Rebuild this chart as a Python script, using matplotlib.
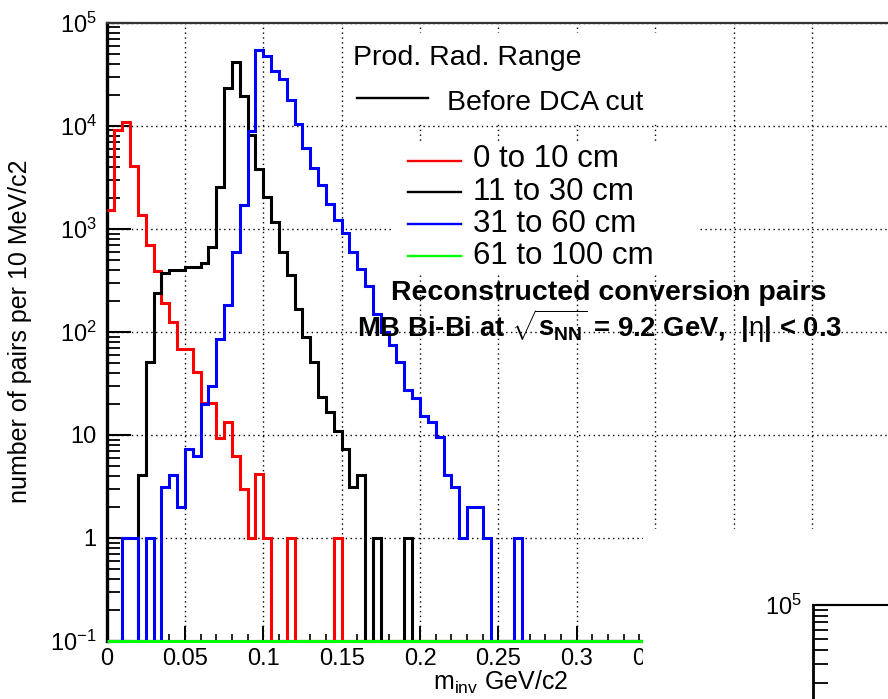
"""
Reconstructed conversion pairs: invariant mass spectra by production radius.
ROOT-style log histogram, canvas cropped at the right edge.
"""
import numpy as np
import matplotlib
matplotlib.use('Agg')
import matplotlib.pyplot as plt
from matplotlib.patches import Rectangle
from matplotlib.lines import Line2D
from matplotlib.ticker import MultipleLocator, FixedLocator, LogLocator, NullFormatter, FuncFormatter

plt.rcParams['font.family'] = ['Liberation Sans', 'DejaVu Sans']
plt.rcParams['mathtext.fontset'] = 'custom'
plt.rcParams['mathtext.rm'] = 'Liberation Sans'
plt.rcParams['mathtext.it'] = 'Liberation Sans:italic'
plt.rcParams['mathtext.bf'] = 'Liberation Sans:bold'

# ── Binning ───────────────────────────────────────────────────────────────────
BIN_WIDTH = 0.005
N_BINS    = 100
edges     = np.linspace(0.0, N_BINS * BIN_WIDTH, N_BINS + 1)

# ── Counts per bin (bins 0..52; the rest are empty) ──────────────────────────
red_counts = [1530, 9140, 10770, 4030, 1370, 700, 390, 190, 124, 68,
              68, 41, 20.6, 20.6, 9.3, 13.3, 6.2, 3.0, 1, 4.2,
              1, 0, 0, 1, 0, 0, 0, 0, 0, 1]
black_counts = [0, 0, 0, 0, 4.1, 51, 240, 374, 394, 394,
                424, 424, 470, 673, 2540, 23200, 41200, 19300, 8100, 3800,
                2030, 1160, 596, 357, 165, 89, 51.5, 23.4, 16.5, 11,
                7.3, 3.1, 4.1, 0, 1, 0, 0, 0, 1]
blue_counts = [0, 0, 1, 1, 0, 1, 0, 3.1, 4.1, 2.0,
               7.3, 6.2, 20, 30, 85, 183, 589, 1710, 8900, 54700,
               47700, 34200, 28600, 17900, 10400, 6040, 3850, 2690, 1750, 1220,
               914, 598, 410, 281, 148, 99, 75, 51.5, 27.4, 22.6,
               15.3, 13.4, 9.6, 4.1, 3.1, 1, 2, 2, 1, 0,
               0, 0, 1]
green_counts = []   # 61 to 100 cm: no entries

series = [
    ('0 to 10 cm',   red_counts,   '#ff0000'),
    ('11 to 30 cm',  black_counts, '#000000'),
    ('31 to 60 cm',  blue_counts,  '#0000ff'),
    ('61 to 100 cm', green_counts, '#00ff00'),
]

x_ticks  = [0, 0.05, 0.1, 0.15, 0.2, 0.25, 0.3, 0.35, 0.4, 0.45]
y_ticks  = [0.1, 1, 10, 100, 1e3, 1e4, 1e5]
y_labels = ['$10^{-1}$', '1', '10', '$10^{2}$', '$10^{3}$', '$10^{4}$', '$10^{5}$']

YMIN, YMAX = 0.1, 1e5
XMAX       = 0.55

# ── Canvas geometry (pixels of the 888x699 picture) ──────────────────────────
W, H = 888, 699
def fx(px): return px / W
def fy(py): return 1.0 - py / H

X0_PX, PX_PER_UNIT = 106.5, 1567.5
Y_TOP, Y_BOT       = 22.7, 641.0

fig = plt.figure(figsize=(W / 100, H / 100), dpi=100)
ax = fig.add_axes([fx(X0_PX), fy(Y_BOT), XMAX * PX_PER_UNIT / W, (Y_BOT - Y_TOP) / H])

ax.set_yscale('log')
ax.set_xlim(0, XMAX)
ax.set_ylim(YMIN, YMAX)

# histograms: empty bins sit on the lower frame, as ROOT draws them
for label, counts, color in series:
    c = np.zeros(N_BINS)
    c[:len(counts)] = counts
    c = np.where(c > 0, c, YMIN)
    ax.stairs(c, edges, baseline=None, color=color, lw=2.2, clip_on=False, zorder=3)

# grid + ticks
ax.grid(True, which='major', ls=(0, (1, 2.5)), color='black', lw=1.0, zorder=1)
ax.xaxis.set_major_locator(FixedLocator(x_ticks))
ax.xaxis.set_minor_locator(MultipleLocator(0.01))
ax.xaxis.set_major_formatter(FuncFormatter(lambda v, p: f'{v:g}'))
ax.yaxis.set_major_locator(FixedLocator(y_ticks))
ax.set_yticklabels(y_labels)
ax.yaxis.set_minor_locator(LogLocator(base=10, subs=np.arange(2, 10)))
ax.yaxis.set_minor_formatter(NullFormatter())
ax.tick_params(axis='x', which='major', direction='in', length=10.8, width=1.4,
               labelsize=17, pad=5, top=False)
ax.tick_params(axis='x', which='minor', direction='in', length=5, width=1.2, top=False)
ax.tick_params(axis='y', which='major', direction='in', length=17.3, width=1.5,
               labelsize=17, pad=7, right=False)
ax.tick_params(axis='y', which='minor', direction='in', length=9.4, width=1.3, right=False)

ax.spines['left'].set_linewidth(2.4)
ax.spines['bottom'].set_linewidth(1.5)
ax.spines['top'].set_linewidth(1.6)
ax.spines['top'].set_color('#333333')
ax.spines['right'].set_visible(False)

# ── Legend boxes (white fill hides the grid) ─────────────────────────────────
def box(x0, y0, x1, y1, z=5):
    fig.patches.append(Rectangle((fx(x0), fy(y1)), (x1 - x0) / W, (y1 - y0) / H,
                                 transform=fig.transFigure, facecolor='white',
                                 edgecolor='none', zorder=z))

box(345, 33, 700, 123)
box(393, 143, 698, 273)

fig.text(fx(353), fy(65), 'Prod. Rad. Range', fontsize=20.5, va='baseline', zorder=6)
fig.add_artist(Line2D([fx(357), fx(428)], [fy(98.3), fy(98.3)], color='black', lw=1.7, zorder=6))
fig.text(fx(447), fy(110), 'Before DCA cut', fontsize=20.5, va='baseline', zorder=6)

entry_base = [166.7, 200, 232, 264.3]
entry_line = [161, 192.3, 224, 256]
for (label, counts, color), yb, yl in zip(series, entry_base, entry_line):
    fig.add_artist(Line2D([fx(408), fx(461)], [fy(yl), fy(yl)], color=color, lw=1.7, zorder=6))
    fig.text(fx(472.5), fy(yb), label, fontsize=22.5, va='baseline', zorder=6)

fig.text(fx(390.5), fy(300), 'Reconstructed conversion pairs', fontsize=20.5,
         fontweight='bold', va='baseline', zorder=6)
fig.text(fx(357), fy(336.7),
         r'MB Bi-Bi at $\sqrt{\mathbf{s}_{\mathbf{NN}}}$ = 9.2 GeV,  |$\mathrm{\eta}$| < 0.3',
         fontsize=19.8, fontweight='bold', va='baseline', zorder=6)

# axis titles
fig.text(fx(20), fy(331), 'number of pairs per 10 MeV/c2', fontsize=18,
         rotation=90, ha='center', va='center')
fig.text(fx(433), fy(690), r'm$_{\mathrm{inv}}$ GeV/c2', fontsize=18, va='baseline')

# ── Neighbouring pad overlapping the lower right corner ──────────────────────
box(643, 529, W + 5, H + 5, z=10)

DECADE2 = 112
ax2 = fig.add_axes([fx(813), fy(605 + 3 * DECADE2), 200 / W, 3 * DECADE2 / H], zorder=12)
ax2.set_yscale('log')
ax2.set_ylim(1e2, 1e5)
ax2.set_xlim(0, 1)
ax2.patch.set_alpha(0)
ax2.set_xticks([])
ax2.yaxis.set_major_locator(FixedLocator([1e5]))
ax2.set_yticklabels(['$10^{5}$'])
ax2.yaxis.set_minor_locator(LogLocator(base=10, subs=np.arange(2, 10)))
ax2.yaxis.set_minor_formatter(NullFormatter())
ax2.tick_params(axis='y', which='major', direction='in', length=20, width=1.5,
                labelsize=17, pad=8)
ax2.tick_params(axis='y', which='minor', direction='in', length=10.5, width=1.3)
ax2.spines['left'].set_linewidth(2.0)
ax2.spines['top'].set_linewidth(1.5)
ax2.spines['right'].set_visible(False)
ax2.spines['bottom'].set_visible(False)

fig.savefig('out.png', dpi=100)
